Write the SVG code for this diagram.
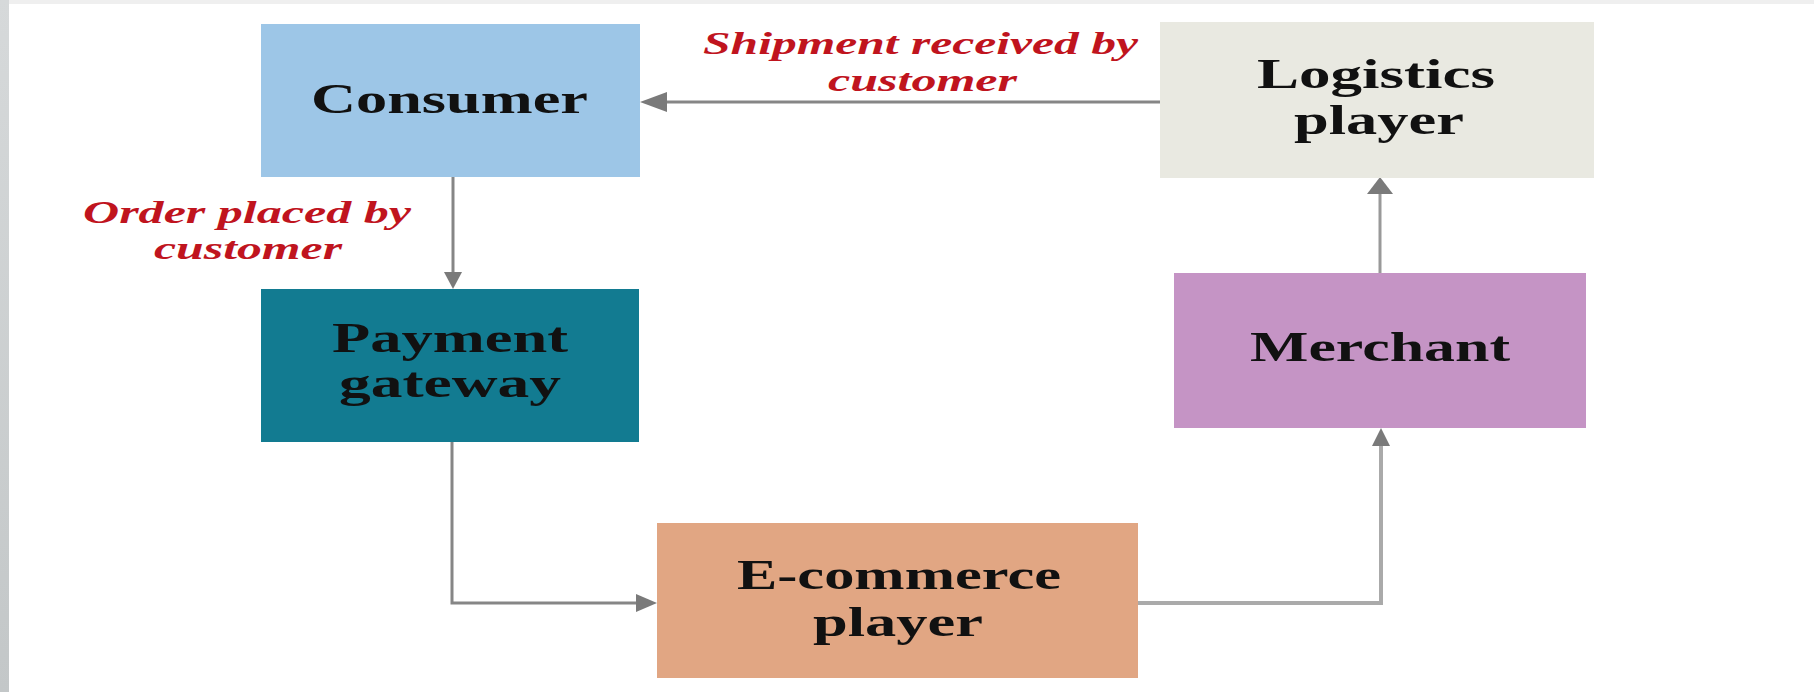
<svg xmlns="http://www.w3.org/2000/svg" width="1814" height="692" viewBox="0 0 1814 692">
<defs>
<style>
.box{stroke:none}
.t{font-family:"Liberation Serif","Times New Roman",serif;font-weight:bold;font-size:42px;fill:#111}
.lbl{font-family:"Liberation Serif","Times New Roman",serif;font-weight:bold;font-style:italic;font-size:32px;fill:#c0141e}
.c{fill:none;stroke:#868686;stroke-width:3}
</style>
<linearGradient id="lg" x1="0" y1="0" x2="0" y2="1">
<stop offset="0" stop-color="#d6d9da"/>
<stop offset="1" stop-color="#c3c7c8"/>
</linearGradient>
</defs>
<rect x="0" y="0" width="1814" height="692" fill="#ffffff"/>
<rect x="0" y="0" width="1814" height="4" fill="#efefef"/>
<rect x="0" y="0" width="9" height="692" fill="url(#lg)"/>

<g id="connectors">
<path class="c" d="M667,102 L1160,102" />
<path d="M640,102 L667,92 L667,112 z" fill="#7a7a7a"/>
<path class="c" d="M453,177 L453,273"/>
<path d="M453,289 L444,272 L462,272 z" fill="#7a7a7a"/>
<path class="c" d="M452,442 L452,603 L637,603"/>
<path d="M657,603 L636,594 L636,612 z" fill="#7a7a7a"/>
<path class="c" style="stroke:#aaaaaa;stroke-width:4" d="M1138,603 L1381,603 L1381,446"/>
<path d="M1381,428 L1372,446 L1390,446 z" fill="#7a7a7a"/>
<path class="c" style="stroke:#999999" d="M1380,273 L1380,193"/>
<path d="M1380,177 L1367,194 L1393,194 z" fill="#7a7a7a"/>
</g>

<g id="node-consumer">
<rect class="box" x="261" y="24" width="379" height="153" fill="#9dc6e7"/>
<text class="t" x="311" y="113" textLength="277" lengthAdjust="spacingAndGlyphs">Consumer</text>
</g>
<g id="node-logistics">
<rect class="box" x="1160" y="22" width="434" height="156" fill="#e9e9e1"/>
<text class="t" x="1257" y="88" textLength="238" lengthAdjust="spacingAndGlyphs">Logistics</text>
<text class="t" x="1294" y="134" textLength="170" lengthAdjust="spacingAndGlyphs">player</text>
</g>
<g id="node-payment">
<rect class="box" x="261" y="289" width="378" height="153" fill="#127b91"/>
<text class="t" x="332" y="352" textLength="236" lengthAdjust="spacingAndGlyphs">Payment</text>
<text class="t" x="339" y="397" textLength="222" lengthAdjust="spacingAndGlyphs">gateway</text>
</g>
<g id="node-merchant">
<rect class="box" x="1174" y="273" width="412" height="155" fill="#c594c5"/>
<text class="t" x="1250" y="361" textLength="260" lengthAdjust="spacingAndGlyphs">Merchant</text>
</g>
<g id="node-ecommerce">
<rect class="box" x="657" y="523" width="481" height="155" fill="#e1a683"/>
<text class="t" x="737" y="589" textLength="324" lengthAdjust="spacingAndGlyphs">E-commerce</text>
<text class="t" x="813" y="636" textLength="170" lengthAdjust="spacingAndGlyphs">player</text>
</g>

<g id="labels">
<text class="lbl" x="703" y="54" textLength="435" lengthAdjust="spacingAndGlyphs">Shipment received by</text>
<text class="lbl" x="828" y="91" textLength="189" lengthAdjust="spacingAndGlyphs">customer</text>
<text class="lbl" x="83" y="223" textLength="328" lengthAdjust="spacingAndGlyphs">Order placed by</text>
<text class="lbl" x="154" y="259" textLength="188" lengthAdjust="spacingAndGlyphs">customer</text>
</g>
</svg>
